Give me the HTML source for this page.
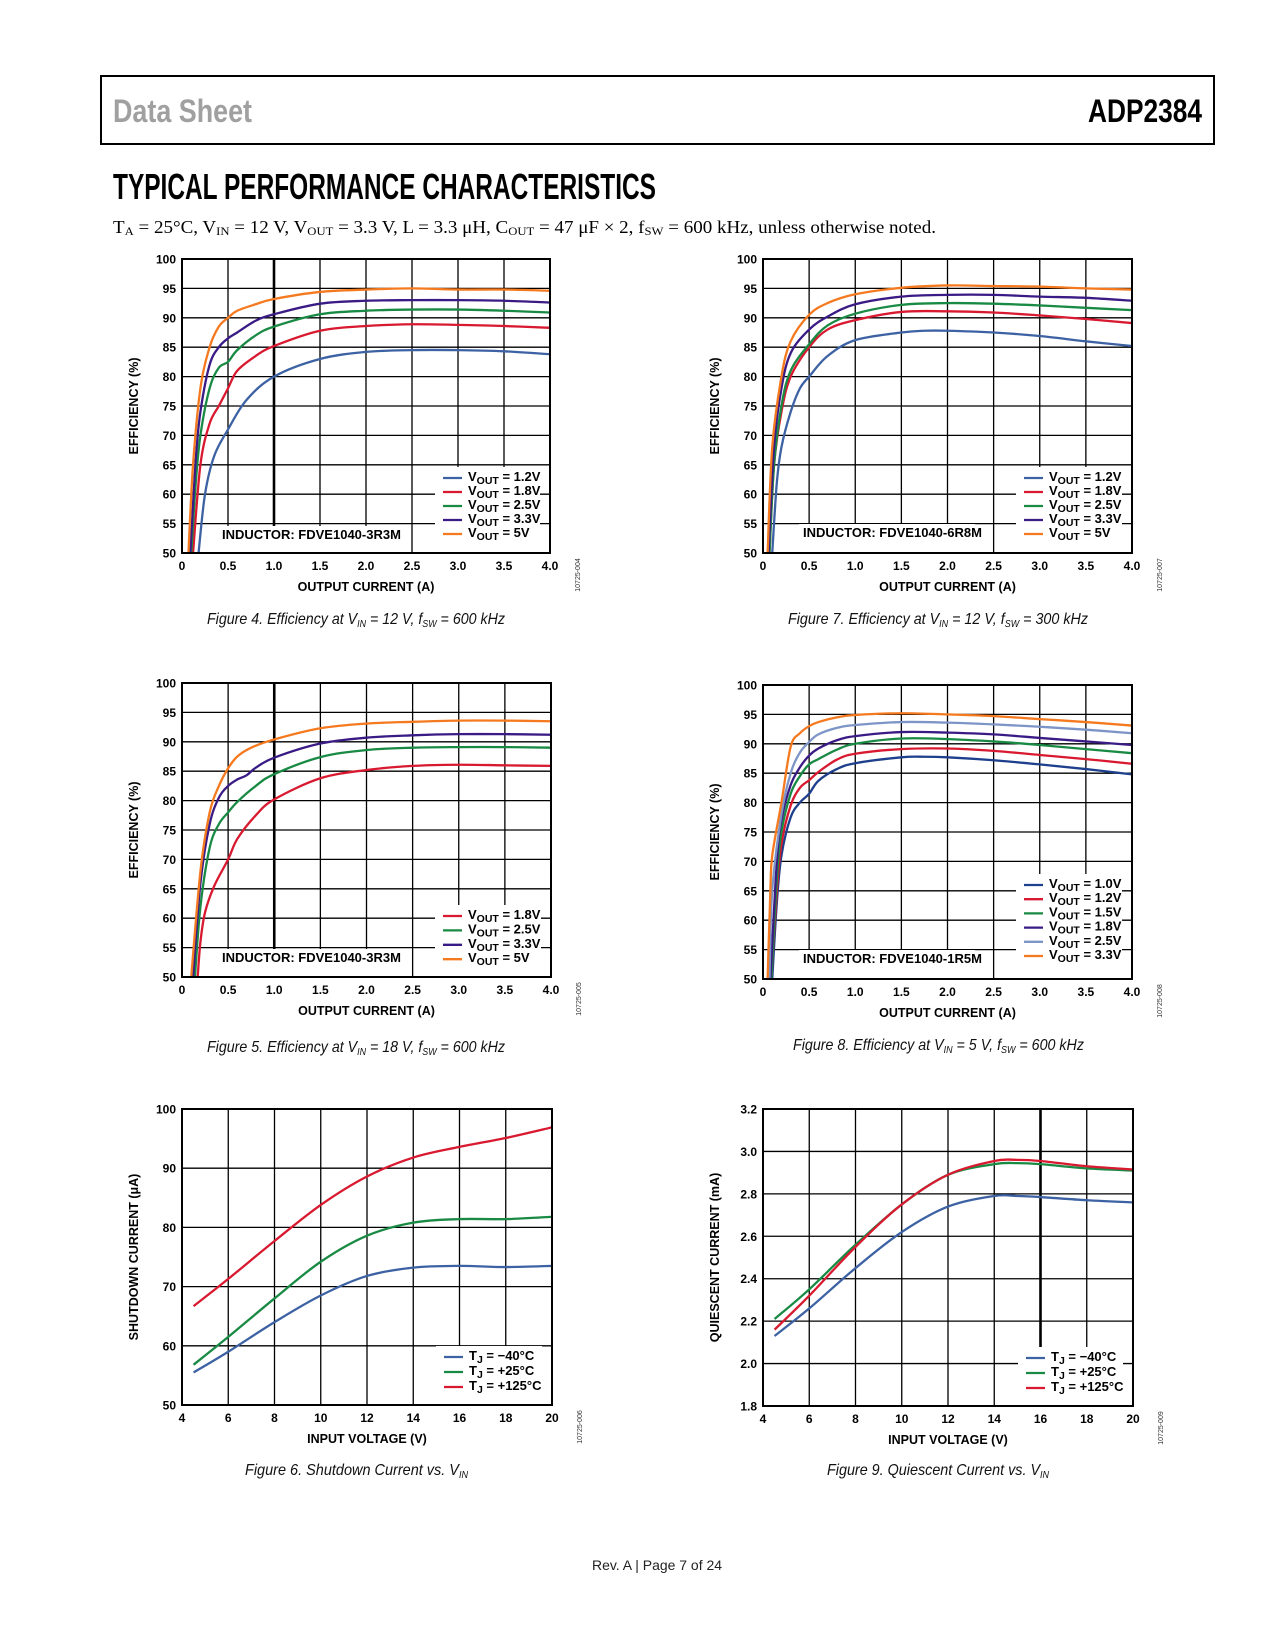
<!DOCTYPE html>
<html><head><meta charset="utf-8"><title>ADP2384 Typical Performance Characteristics</title>
<style>
html,body{margin:0;padding:0;background:#fff;}
svg{display:block;}
.tick{font-family:"Liberation Sans",Arial,sans-serif;font-weight:bold;font-size:12px;fill:#000;}
.axt{font-family:"Liberation Sans",Arial,sans-serif;font-weight:bold;font-size:12.5px;fill:#000;}
.leg{font-family:"Liberation Sans",Arial,sans-serif;font-weight:bold;font-size:13px;fill:#000;}
.cap{font-family:"Liberation Sans",Arial,sans-serif;font-style:italic;font-size:16px;fill:#111;}
.code{font-family:"Liberation Sans",Arial,sans-serif;font-size:7px;fill:#333;}
</style></head>
<body>
<svg id="page" xmlns="http://www.w3.org/2000/svg" width="1275" height="1650" viewBox="0 0 1275 1650">
<rect x="0" y="0" width="1275" height="1650" fill="#fff"/>
<rect x="101" y="76" width="1113" height="68" fill="none" stroke="#000" stroke-width="2"/>
<text x="113" y="122" font-family="'Liberation Sans Narrow','Liberation Sans',sans-serif" font-weight="bold" font-size="32" fill="#a0a0a0" textLength="139" lengthAdjust="spacingAndGlyphs">Data Sheet</text>
<text x="1202" y="122" text-anchor="end" font-family="'Liberation Sans Narrow','Liberation Sans',sans-serif" font-weight="bold" font-size="32" fill="#000" textLength="114" lengthAdjust="spacingAndGlyphs">ADP2384</text>
<text x="113" y="199" font-family="'Liberation Sans Narrow','Liberation Sans',sans-serif" font-weight="bold" font-size="36" fill="#000" textLength="543" lengthAdjust="spacingAndGlyphs">TYPICAL PERFORMANCE CHARACTERISTICS</text>
<text x="113" y="233" font-family="'Liberation Serif',serif" font-size="18" fill="#000" textLength="823" lengthAdjust="spacingAndGlyphs">T<tspan font-size="12" dy="2">A</tspan><tspan dy="-2"> = 25°C, V</tspan><tspan font-size="12" dy="2">IN</tspan><tspan dy="-2"> = 12 V, V</tspan><tspan font-size="12" dy="2">OUT</tspan><tspan dy="-2"> = 3.3 V, L = 3.3 μH, C</tspan><tspan font-size="12" dy="2">OUT</tspan><tspan dy="-2"> = 47 μF × 2, f</tspan><tspan font-size="12" dy="2">SW</tspan><tspan dy="-2"> = 600 kHz, unless otherwise noted.</tspan></text>
<text x="592" y="1570" font-family="'Liberation Sans',sans-serif" font-size="14" fill="#222" textLength="130" lengthAdjust="spacingAndGlyphs">Rev. A | Page 7 of 24</text>
</svg>
<script>
// ---------- DATA ----------
const f4x12=[0.18,0.25,0.35,0.5,0.7,1.0,1.5,2.0,2.5,3.0,3.5,4.0];
const f4y12=[50,60,66.5,71,76,80,83,84.2,84.5,84.5,84.3,83.8];
const f4x18=[0.12,0.2,0.3,0.4,0.5,0.6,0.8,1.0,1.5,2.0,2.5,3.0,3.5,4.0];
const f4y18=[50,65,72,75,78,81,83.5,85.2,87.8,88.6,88.9,88.8,88.6,88.3];
const f4x25=[0.1,0.15,0.2,0.3,0.4,0.5,0.6,0.8,1.0,1.5,2.0,2.5,3.0,3.5,4.0];
const f4y25=[50,62,70,78,81.5,82.5,84.5,87,88.5,90.6,91.2,91.4,91.4,91.2,90.9];
const f4x33=[0.09,0.15,0.2,0.3,0.4,0.5,0.6,0.8,1.0,1.5,2.0,2.5,3.0,3.5,4.0];
const f4y33=[50,66,74,82,85,86.5,87.5,89.5,90.6,92.4,92.9,93,93,92.9,92.6];
const f4x50=[0.07,0.12,0.2,0.3,0.4,0.5,0.6,0.8,1.0,1.5,2.0,2.5,3.0,3.5,4.0];
const f4y50=[50,65,78,85,88.5,90,91.2,92.3,93.2,94.4,94.8,95,94.8,94.8,94.6];
const f7x12=[0.1,0.15,0.2,0.3,0.4,0.5,0.7,1.0,1.5,1.75,2.0,2.5,3.0,3.5,4.0];
const f7y12=[50,62,68,74,78,80,83.5,86.2,87.5,87.8,87.8,87.5,86.9,86,85.2];
const f7x18=[0.07,0.12,0.2,0.3,0.5,0.7,1.0,1.5,2.0,2.5,3.0,3.5,4.0];
const f7y18=[50,65,74,80,85,88,89.6,91,91.1,90.9,90.4,89.8,89.1];
const f7x25=[0.07,0.12,0.2,0.3,0.5,0.7,1.0,1.5,2.0,2.5,3.0,3.5,4.0];
const f7y25=[50,65,75,81,85.5,88.7,90.7,92.2,92.5,92.4,92.1,91.7,91.3];
const f7x33=[0.06,0.12,0.2,0.3,0.5,0.7,1.0,1.5,2.0,2.5,3.0,3.5,4.0];
const f7y33=[50,68,78,84,88,90.2,92.3,93.6,93.9,93.9,93.6,93.4,92.9];
const f7x50=[0.05,0.1,0.2,0.3,0.5,0.7,1.0,1.5,2.0,2.5,3.0,3.5,4.0];
const f7y50=[50,68,80,86,90.5,92.5,94,95.1,95.5,95.4,95.3,95,94.8];
const f5x18=[0.17,0.2,0.25,0.35,0.5,0.6,0.8,1.0,1.5,2.0,2.5,3.0,3.5,4.0];
const f5y18=[50,56,61,65.5,70,73.5,77.5,80.2,83.8,85.2,85.9,86.1,86,85.9];
const f5x25=[0.14,0.2,0.3,0.4,0.5,0.6,0.8,1.0,1.5,2.0,2.5,3.0,3.5,4.0];
const f5y25=[50,62,72,76,78,79.8,82.5,84.5,87.4,88.6,89,89.1,89.1,89];
const f5x33=[0.12,0.2,0.3,0.4,0.5,0.6,0.7,0.8,1.0,1.5,2.0,2.5,3.0,3.5,4.0];
const f5y33=[50,66,76,80.5,82.5,83.6,84.3,85.6,87.3,89.7,90.7,91.1,91.3,91.3,91.2];
const f5x50=[0.1,0.2,0.3,0.4,0.5,0.6,0.75,1.0,1.5,2.0,2.5,3.0,3.5,4.0];
const f5y50=[50,68,78,82.5,85.5,87.5,89,90.4,92.3,93.1,93.4,93.6,93.6,93.5];
const f8x10=[0.1,0.15,0.2,0.3,0.4,0.5,0.6,0.8,1.0,1.5,1.75,2.0,2.5,3.0,3.5,4.0];
const f8y10=[50,63,71,77.5,80,81.5,83.7,85.7,86.7,87.7,87.8,87.7,87.2,86.5,85.7,84.8];
const f8x12=[0.09,0.15,0.2,0.3,0.4,0.5,0.6,0.8,1.0,1.5,2.0,2.5,3.0,3.5,4.0];
const f8y12=[50,65,73,79.5,82.5,83.8,85.2,87.3,88.3,89.1,89.2,88.8,88.1,87.4,86.6];
const f8x15=[0.09,0.15,0.2,0.3,0.4,0.5,0.6,0.8,1.0,1.5,2.0,2.5,3.0,3.5,4.0];
const f8y15=[50,67,75,81.5,84.5,86.5,87.4,89,90,90.9,90.8,90.4,89.8,89.1,88.4];
const f8x18=[0.08,0.15,0.2,0.3,0.4,0.5,0.6,0.8,1.0,1.5,2.0,2.5,3.0,3.5,4.0];
const f8y18=[50,70,77,83,86,88,89.2,90.6,91.3,92,91.9,91.6,91,90.4,89.8];
const f8x25=[0.07,0.1,0.2,0.3,0.4,0.5,0.6,0.8,1.0,1.5,2.0,2.5,3.0,3.5,4.0];
const f8y25=[50,65,78,85,88.5,90.3,91.6,92.7,93.2,93.7,93.6,93.3,92.9,92.4,91.8];
const f8x33=[0.05,0.08,0.1,0.2,0.3,0.4,0.5,0.6,0.8,1.0,1.5,2.0,2.5,3.0,3.5,4.0];
const f8y33=[50,65,71,80,89.5,91.8,93,93.7,94.5,94.9,95.2,95,94.7,94.2,93.7,93.1];
const f6vin=[4.5,6,8,10,12,14,16,18,20];
const f6m40=[55.5,59,64,68.5,71.8,73.2,73.5,73.3,73.5];
const f6p25=[56.8,61.5,68,74.2,78.6,80.8,81.4,81.4,81.8];
const f6p125=[66.7,71.3,77.7,83.8,88.6,91.8,93.6,95.1,96.9];
const f9vin=[4.5,6,8,10,12,14,15,16,18,20];
const f9m40=[2.13,2.26,2.45,2.62,2.74,2.79,2.79,2.785,2.77,2.76];
const f9p25=[2.21,2.35,2.56,2.75,2.89,2.94,2.945,2.94,2.92,2.91];
const f9p125=[2.16,2.32,2.55,2.75,2.89,2.955,2.96,2.955,2.93,2.915];
const effXTicks=['0','0.5','1.0','1.5','2.0','2.5','3.0','3.5','4.0'];
const effYTicks=['50','55','60','65','70','75','80','85','90','95','100'];
const vinXTicks=['4','6','8','10','12','14','16','18','20'];
const sdYTicks=['50','60','70','80','90','100'];
const qYTicks=['1.8','2.0','2.2','2.4','2.6','2.8','3.0','3.2'];

// ---------- DRAWING ----------
const NS='http://www.w3.org/2000/svg';
const page=document.getElementById('page');
const C={blue:'#3d62a3',red:'#d8192f',green:'#198a44',purple:'#3a1b85',orange:'#f57a1f',lblue:'#7d95c6',dblue:'#1d3f8c'};

function el(tag,parent){const e=document.createElementNS(NS,tag);parent.appendChild(e);return e;}
function smoothPath(pts){
  let d='M'+pts[0][0].toFixed(2)+','+pts[0][1].toFixed(2);
  for(let i=0;i<pts.length-1;i++){
    const p0=pts[Math.max(0,i-1)],p1=pts[i],p2=pts[i+1],p3=pts[Math.min(pts.length-1,i+2)];
    const c1x=p1[0]+(p2[0]-p0[0])/6,c1y=p1[1]+(p2[1]-p0[1])/6;
    const c2x=p2[0]-(p3[0]-p1[0])/6,c2y=p2[1]-(p3[1]-p1[1])/6;
    d+=' C'+c1x.toFixed(2)+','+c1y.toFixed(2)+' '+c2x.toFixed(2)+','+c2y.toFixed(2)+' '+p2[0].toFixed(2)+','+p2[1].toFixed(2);
  }
  return d;
}
let clipId=0;
function chart(cfg){
  const g=el('g',page);
  
  
  const L=cfg.L,R=cfg.R,T=cfg.T,B=cfg.B;
  const sx=v=>L+(v-cfg.x0)/(cfg.x1-cfg.x0)*(R-L);
  const sy=v=>B-(v-cfg.y0)/(cfg.y1-cfg.y0)*(B-T);
  cfg.xt.forEach((lab,i)=>{
    const v=cfg.x0+i*cfg.xs;const x=sx(v);
    if(i>0&&i<cfg.xt.length-1){
      const ln=el('line',g);
      
      
      ln.setAttribute('x1',x);ln.setAttribute('x2',x);ln.setAttribute('y1',T);ln.setAttribute('y2',B);
      ln.setAttribute('stroke','#000');ln.setAttribute('stroke-width',v===cfg.thick?2.6:1.3);
    }
    const t=el('text',g);
    
    
    t.setAttribute('class','tick');t.setAttribute('x',x);t.setAttribute('y',B+17);t.setAttribute('text-anchor','middle');
    t.textContent=lab;
  });
  cfg.yt.forEach((lab,i)=>{
    const v=cfg.y0+i*cfg.ys;const y=sy(v);
    if(i>0&&i<cfg.yt.length-1){
      const ln=el('line',g);
      
      
      ln.setAttribute('x1',L);ln.setAttribute('x2',R);ln.setAttribute('y1',y);ln.setAttribute('y2',y);
      ln.setAttribute('stroke','#000');ln.setAttribute('stroke-width',1.3);
    }
    const t=el('text',g);
    
    
    t.setAttribute('class','tick');t.setAttribute('x',L-6);t.setAttribute('y',y+4.5);t.setAttribute('text-anchor','end');
    t.textContent=lab;
  });
  const lb=el('rect',g);
  
  
  lb.setAttribute('x',cfg.legX-8);lb.setAttribute('y',cfg.legY-11);lb.setAttribute('width',R-cfg.legX-2);
  lb.setAttribute('height',B-cfg.legY+10);lb.setAttribute('fill','#fff');
  if(cfg.ind){
    const ib=el('rect',g);
    
    
    ib.setAttribute('x',cfg.indX-4);ib.setAttribute('y',cfg.indY-13);ib.setAttribute('width',176);ib.setAttribute('height',B-cfg.indY+12);
    ib.setAttribute('fill','#fff');
    const it=el('text',g);
    
    
    it.setAttribute('class','leg');it.setAttribute('x',cfg.indX);it.setAttribute('y',cfg.indY);
    it.textContent=cfg.ind;
  }
  const cp=el('clipPath',g);const cid='clip'+(clipId++);cp.setAttribute('id',cid);
  const cr=el('rect',cp);cr.setAttribute('x',L);cr.setAttribute('y',T);cr.setAttribute('width',R-L);cr.setAttribute('height',B-T);
  cfg.series.forEach((s,i)=>{
    const pts=s.xs.map((xv,k)=>[sx(xv),sy(s.ys[k])]);
    const p=el('path',g);
    
    
    p.setAttribute('d',smoothPath(pts));p.setAttribute('fill','none');p.setAttribute('stroke',s.color);
    p.setAttribute('stroke-width',2.3);p.setAttribute('stroke-linejoin','round');p.setAttribute('clip-path','url(#'+cid+')');
    const ly=cfg.legY+i*cfg.legDy;
    const ll=el('line',g);
    
    
    ll.setAttribute('x1',cfg.legX);ll.setAttribute('x2',cfg.legX+19);ll.setAttribute('y1',ly);ll.setAttribute('y2',ly);
    ll.setAttribute('stroke',s.color);ll.setAttribute('stroke-width',2.3);
    const lt=el('text',g);
    
    
    lt.setAttribute('class','leg');lt.setAttribute('x',cfg.legX+25);lt.setAttribute('y',ly+3);
    const a=el('tspan',lt);a.textContent=s.pre;
    const b=el('tspan',lt);b.setAttribute('font-size','10.5');b.setAttribute('dy','3');b.textContent=s.sub;
    const c=el('tspan',lt);c.setAttribute('dy','-3');c.textContent=s.post;
  });
  const bd=el('rect',g);
  
  
  bd.setAttribute('x',L);bd.setAttribute('y',T);bd.setAttribute('width',R-L);bd.setAttribute('height',B-T);
  bd.setAttribute('fill','none');bd.setAttribute('stroke','#000');bd.setAttribute('stroke-width',2);
  const xt=el('text',g);
  
  
  xt.setAttribute('class','axt');xt.setAttribute('x',(L+R)/2);xt.setAttribute('y',B+38);xt.setAttribute('text-anchor','middle');
  xt.textContent=cfg.xTitle;
  const yt=el('text',g);
  
  
  yt.setAttribute('class','axt');yt.setAttribute('text-anchor','middle');
  yt.setAttribute('transform','translate('+(cfg.yTitleX)+','+((T+B)/2)+') rotate(-90)');
  yt.textContent=cfg.yTitle;
  const cd=el('text',g);
  
  
  cd.setAttribute('class','code');cd.setAttribute('text-anchor','middle');
  cd.setAttribute('transform','translate('+(R+30)+','+(B+22)+') rotate(-90)');
  cd.textContent=cfg.code;
  const cap=el('text',g);
  
  
  cap.setAttribute('class','cap');cap.setAttribute('x',cfg.capX);cap.setAttribute('y',cfg.capY);
  cap.setAttribute('textLength',cfg.capW);cap.setAttribute('lengthAdjust','spacingAndGlyphs');
  cfg.cap.forEach((part,k)=>{
    const ts=el('tspan',cap);
    if(k%2===1){ts.setAttribute('font-size','10');ts.setAttribute('dy','3');}
    else if(k>0){ts.setAttribute('dy','-3');}
    ts.textContent=part;
  });
}
function vout(key,xs,ys,color,v){return {key:key,xs:xs,ys:ys,color:color,pre:'V',sub:'OUT',post:' = '+v};}
function tj(key,xs,ys,color,v){return {key:key,xs:xs,ys:ys,color:color,pre:'T',sub:'J',post:' = '+v};}
const effBase={x0:0,x1:4,xs:0.5,y0:50,y1:100,ys:5,xt:effXTicks,yt:effYTicks,xTitle:'OUTPUT CURRENT (A)',yTitle:'EFFICIENCY (%)'};

chart(Object.assign({},effBase,{name:'figure-4-chart',L:182,R:550,T:259,B:553,thick:1.0,yTitleX:138,
  legX:443,legY:478,legDy:14,ind:'INDUCTOR: FDVE1040-3R3M',indX:222,indY:539,code:'10725-004',
  capX:207,capY:624,capW:298,cap:['Figure 4. Efficiency at V','IN',' = 12 V, f','SW',' = 600 kHz'],
  series:[vout('vout-1v2',f4x12,f4y12,C.blue,'1.2V'),vout('vout-1v8',f4x18,f4y18,C.red,'1.8V'),vout('vout-2v5',f4x25,f4y25,C.green,'2.5V'),vout('vout-3v3',f4x33,f4y33,C.purple,'3.3V'),vout('vout-5v',f4x50,f4y50,C.orange,'5V')]}));

chart(Object.assign({},effBase,{name:'figure-7-chart',L:763,R:1132,T:259,B:553,thick:null,yTitleX:719,
  legX:1024,legY:478,legDy:14,ind:'INDUCTOR: FDVE1040-6R8M',indX:803,indY:537,code:'10725-007',
  capX:788,capY:624,capW:300,cap:['Figure 7. Efficiency at V','IN',' = 12 V, f','SW',' = 300 kHz'],
  series:[vout('vout-1v2',f7x12,f7y12,C.blue,'1.2V'),vout('vout-1v8',f7x18,f7y18,C.red,'1.8V'),vout('vout-2v5',f7x25,f7y25,C.green,'2.5V'),vout('vout-3v3',f7x33,f7y33,C.purple,'3.3V'),vout('vout-5v',f7x50,f7y50,C.orange,'5V')]}));

chart(Object.assign({},effBase,{name:'figure-5-chart',L:182,R:551,T:683,B:977,thick:1.0,yTitleX:138,
  legX:443,legY:916,legDy:14.4,ind:'INDUCTOR: FDVE1040-3R3M',indX:222,indY:962,code:'10725-005',
  capX:207,capY:1052,capW:298,cap:['Figure 5. Efficiency at V','IN',' = 18 V, f','SW',' = 600 kHz'],
  series:[vout('vout-1v8',f5x18,f5y18,C.red,'1.8V'),vout('vout-2v5',f5x25,f5y25,C.green,'2.5V'),vout('vout-3v3',f5x33,f5y33,C.purple,'3.3V'),vout('vout-5v',f5x50,f5y50,C.orange,'5V')]}));

chart(Object.assign({},effBase,{name:'figure-8-chart',L:763,R:1132,T:685,B:979,thick:null,yTitleX:719,
  legX:1024,legY:885,legDy:14.2,ind:'INDUCTOR: FDVE1040-1R5M',indX:803,indY:963,code:'10725-008',
  capX:793,capY:1050,capW:291,cap:['Figure 8. Efficiency at V','IN',' = 5 V, f','SW',' = 600 kHz'],
  series:[vout('vout-1v0',f8x10,f8y10,C.dblue,'1.0V'),vout('vout-1v2',f8x12,f8y12,C.red,'1.2V'),vout('vout-1v5',f8x15,f8y15,C.green,'1.5V'),vout('vout-1v8',f8x18,f8y18,C.purple,'1.8V'),vout('vout-2v5',f8x25,f8y25,C.lblue,'2.5V'),vout('vout-3v3',f8x33,f8y33,C.orange,'3.3V')]}));

chart({name:'figure-6-chart',L:182,R:552,T:1109,B:1405,x0:4,x1:20,xs:2,y0:50,y1:100,ys:10,xt:vinXTicks,yt:sdYTicks,thick:null,
  xTitle:'INPUT VOLTAGE (V)',yTitle:'SHUTDOWN CURRENT (μA)',yTitleX:138,
  legX:444,legY:1357,legDy:15,ind:null,code:'10725-006',
  capX:245,capY:1475,capW:223,cap:['Figure 6. Shutdown Current vs. V','IN'],
  series:[tj('tj-minus40',f6vin,f6m40,C.blue,'−40°C'),tj('tj-plus25',f6vin,f6p25,C.green,'+25°C'),tj('tj-plus125',f6vin,f6p125,C.red,'+125°C')]});

chart({name:'figure-9-chart',L:763,R:1133,T:1109,B:1406,x0:4,x1:20,xs:2,y0:1.8,y1:3.2,ys:0.2,xt:vinXTicks,yt:qYTicks,thick:16,
  xTitle:'INPUT VOLTAGE (V)',yTitle:'QUIESCENT CURRENT (mA)',yTitleX:719,
  legX:1026,legY:1358,legDy:15,ind:null,code:'10725-009',
  capX:827,capY:1475,capW:222,cap:['Figure 9. Quiescent Current vs. V','IN'],
  series:[tj('tj-minus40',f9vin,f9m40,C.blue,'−40°C'),tj('tj-plus25',f9vin,f9p25,C.green,'+25°C'),tj('tj-plus125',f9vin,f9p125,C.red,'+125°C')]});
</script>
</body></html>
